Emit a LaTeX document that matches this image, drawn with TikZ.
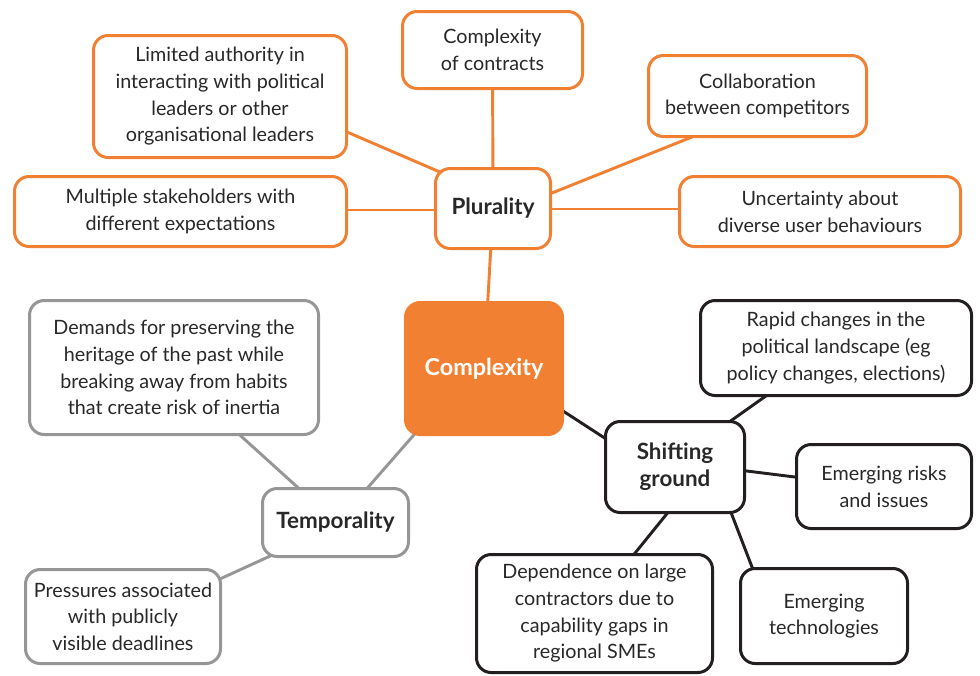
\documentclass[tikz,border=0pt]{standalone}
\usepackage{fontspec}
\setmainfont{Lato}
\usetikzlibrary{calc}
\definecolor{orng}{RGB}{242,128,50}
\definecolor{gry}{RGB}{150,150,150}
\definecolor{blk}{RGB}{35,31,32}
\definecolor{txt}{RGB}{40,40,40}
\pgfdeclarelayer{background}
\pgfsetlayers{background,main}
\tikzset{
  box/.style={draw, fill=white, rounded corners=11pt, line width=2.25pt, inner sep=0pt,
    align=center, text=txt, font=\fontsize{14.8}{20}\selectfont},
  obox/.style={box, draw=orng},
  gbox/.style={box, draw=gry},
  kbox/.style={box, draw=blk},
  hub/.style={font=\fontsize{16.8}{20.3}\selectfont\bfseries},
  conn/.style={line width=2.2pt},
}
\begin{document}
\begin{tikzpicture}[x=0.75pt,y=-0.75pt]
\useasboundingbox (0,0) rectangle (980,675);
% orange group
\node[obox, minimum width=135pt, minimum height=57.75pt] (cc) at (492.5,50) {Complexity\\of contracts};
\node[obox, minimum width=189.75pt, minimum height=91.5pt] (la) at (220,96.5) {Limited authority in\\interacting with political\\leaders or other\\organisational leaders};
\node[obox, minimum width=163.5pt, minimum height=60.75pt] (cb) at (757.5,96) {Collaboration\\between competitors};
\node[obox, minimum width=249pt, minimum height=52.5pt] (ms) at (180.5,211.5) {Multiple stakeholders with\\different expectations};
\node[obox, hub, minimum width=86.25pt, minimum height=60pt] (pl) at (493,208.5) {Plurality};
\node[obox, minimum width=210.75pt, minimum height=52.5pt] (ub) at (820,211.5) {Uncertainty about\\diverse user behaviours};
% centre
\node[box, draw=orng, fill=orng, text=white, minimum width=117.75pt, minimum height=99pt,
  font=\fontsize{17.5}{20}\selectfont\bfseries] (cx) at (484,368.5) {Complexity};
% grey group
\node[gbox, minimum width=216.75pt, minimum height=100.5pt] (dm) at (174,367.5) {Demands for preserving the\\heritage of the past while\\breaking away from habits\\that create risk of inertia};
\node[gbox, hub, minimum width=109.5pt, minimum height=51pt] (tp) at (335.5,522.5) {Temporality};
\node[gbox, minimum width=146.25pt, minimum height=70.5pt] (pr) at (123,616.5) {Pressures associated\\with publicly\\visible deadlines};
% black group
\node[kbox, minimum width=203.25pt, minimum height=71.25pt] (rc) at (836,348) {Rapid changes in the\\political landscape (eg\\policy changes, elections)};
\node[kbox, hub, minimum width=104.25pt, minimum height=68.25pt] (sg) at (675,467) {Shifting\\ground};
\node[kbox, minimum width=131.25pt, minimum height=63pt] (er) at (884,486.5) {Emerging risks\\and issues};
\node[kbox, minimum width=177pt, minimum height=88.5pt] (dp) at (594.5,613.5) {Dependence on large\\contractors due to\\capability gaps in\\regional SMEs};
\node[kbox, minimum width=125.25pt, minimum height=71.25pt] (et) at (824,616) {Emerging\\technologies};
% connectors
\begin{pgfonlayer}{background}
\draw[conn, orng] (cc) -- (pl);
\draw[conn, orng] ($(la.center)+(110,28.2)$) -- ($(pl.center)+(-38,-30)$);
\draw[conn, orng] ($(cb.center)+(-47.5,33.8)$) -- ($(pl.center)+(42,-8.7)$);
\draw[conn, orng] ($(ms.center)+(0,-1.5)$) -- ($(pl.center)+(0,1.5)$);
\draw[conn, orng] ($(ub.center)+(0,-2.5)$) -- ($(pl.center)+(0,0.5)$);
\draw[conn, orng] (pl) -- (cx);
\draw[conn, blk] ($(cx.center)+(61,30.8)$) -- ($(sg.center)+(-55,-19)$);
\draw[conn, gry] ($(cx.center)+(-59,53.7)$) -- ($(tp.center)+(24.5,-26)$);
\draw[conn, gry] ($(dm.center)+(56,58.6)$) -- ($(tp.center)+(-30.5,-28.5)$);
\draw[conn, gry] ($(tp.center)+(-55.5,29)$) -- ($(pr.center)+(82,-30.7)$);
\draw[conn, blk] ($(rc.center)+(-61,41.5)$) -- ($(sg.center)+(45,-38.5)$);
\draw[conn, blk] ($(sg.center)+(55,1.9)$) -- ($(er.center)+(-69,-7)$);
\draw[conn, blk] ($(sg.center)+(-3,40.4)$) -- ($(dp.center)+(30.5,-48)$);
\draw[conn, blk] ($(sg.center)+(54,40.2)$) -- ($(et.center)+(-68,-38.6)$);
\end{pgfonlayer}
\end{tikzpicture}
\end{document}
